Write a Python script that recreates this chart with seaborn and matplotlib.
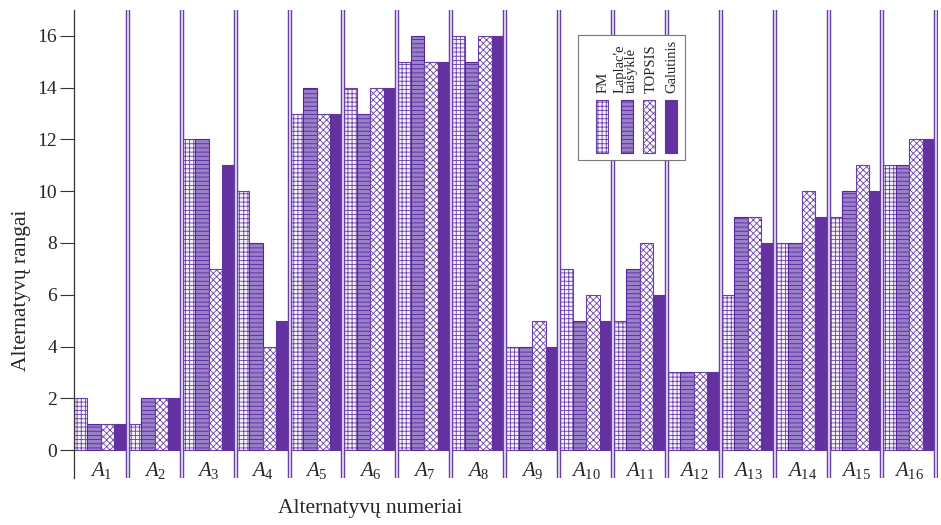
import matplotlib
matplotlib.use('Agg')
import matplotlib.pyplot as plt
from matplotlib.patches import Rectangle
import pandas as pd
import seaborn as sns

# data
alternatives = ['A%d' % i for i in range(1, 17)]
methods = ['FM', "Laplac'e\ntaisyklė", 'TOPSIS', 'Galutinis']
fm = [2, 1, 12, 10, 13, 14, 15, 16, 4, 7, 5, 3, 6, 8, 9, 11]
laplace = [1, 2, 12, 8, 14, 13, 16, 15, 4, 5, 7, 3, 9, 8, 10, 11]
topsis = [1, 2, 7, 4, 13, 14, 15, 16, 5, 6, 8, 3, 9, 10, 11, 12]
galutinis = [1, 2, 11, 5, 13, 14, 15, 16, 4, 5, 6, 3, 8, 9, 10, 12]
y_ticks = [0, 2, 4, 6, 8, 10, 12, 14, 16]

PURPLE = '#6431a0'
EDGE = '#6a40a8'
styles = [
    dict(facecolor='#f4effa', hatch='++++', edgecolor=EDGE),
    dict(facecolor='#9a80c8', hatch='----', edgecolor='#55269a'),
    dict(facecolor='white', hatch='xxxxx', edgecolor=EDGE),
    dict(facecolor=PURPLE, hatch='', edgecolor=PURPLE),
]


def build_frame():
    rows = []
    for method, values in zip(methods, [fm, laplace, topsis, galutinis]):
        for alt, v in zip(alternatives, values):
            rows.append({'alt': alt, 'rank': v, 'method': method})
    return pd.DataFrame(rows)


def main():
    sns.set_style('white')
    plt.rcParams['font.family'] = ['Liberation Serif', 'DejaVu Serif']
    plt.rcParams['mathtext.fontset'] = 'custom'
    plt.rcParams['mathtext.rm'] = 'Liberation Serif'
    plt.rcParams['mathtext.it'] = 'Liberation Serif:italic'
    plt.rcParams['hatch.linewidth'] = 0.6

    df = build_frame()
    fig = plt.figure(figsize=(9.41, 5.25), dpi=100)
    ax = fig.add_axes([74 / 941, 47 / 525, 864 / 941, 468 / 525])

    sns.barplot(data=df, x='alt', y='rank', hue='method', hue_order=methods,
                order=alternatives, width=1.0, gap=0, palette=['white'] * 4,
                legend=False, ax=ax, zorder=2)
    for container, st in zip(ax.containers, styles):
        for patch in container:
            patch.set_facecolor(st['facecolor'])
            patch.set_edgecolor(st['edgecolor'])
            patch.set_hatch(st['hatch'])
            patch.set_linewidth(0.8)

    # double separators between groups
    for i in range(len(alternatives)):
        ax.axvline(i + 0.5, color=EDGE, lw=3.2, zorder=3)
        ax.axvline(i + 0.5, color='#ece6f4', lw=1.2, zorder=3)

    ax.set_xlim(-0.5, 15.53)
    ax.set_ylim(-1.08, 17.0)
    ax.set_yticks(y_ticks)
    ax.tick_params(axis='y', direction='out', length=10, width=0.8,
                   color='#333333', labelsize=14, pad=2, left=True)
    ax.set_xticks([])
    for s in ['top', 'right', 'bottom']:
        ax.spines[s].set_visible(False)
    ax.spines['left'].set_color('#333333')
    ax.spines['left'].set_linewidth(0.9)

    for i in range(len(alternatives)):
        ax.text(i, -0.8, r'$A_{%d}$' % (i + 1), ha='center', va='center',
                fontsize=15)

    ax.set_xlabel('Alternatyvų numeriai', fontsize=15.5)
    ax.set_ylabel('Alternatyvų rangai', fontsize=15.5)
    ax.xaxis.set_label_coords(0.343, -0.045)
    ax.yaxis.set_label_coords(-0.05, 0.40)

    # hand-made legend with rotated labels
    def to_ax(px, py):
        return (px - 74) / 864, (478 - py) / 468

    x0, y0 = to_ax(578, 160)
    x1, y1 = to_ax(685, 35)
    ax.add_patch(Rectangle((x0, y0), x1 - x0, y1 - y0, transform=ax.transAxes,
                           facecolor='white', edgecolor='#777777', lw=0.8,
                           zorder=6))
    patch_x = [596, 621, 643, 665]
    text_x = [603, 626, 651, 672]
    for px, tx, st, label in zip(patch_x, text_x, styles, methods):
        a0, b0 = to_ax(px, 153)
        a1, b1 = to_ax(px + 12, 100)
        ax.add_patch(Rectangle((a0, b0), a1 - a0, b1 - b0,
                               transform=ax.transAxes, facecolor=st['facecolor'],
                               edgecolor=st['edgecolor'], hatch=st['hatch'],
                               lw=0.8, zorder=7))
        tx0, ty0 = to_ax(tx, 93)
        ax.text(tx0, ty0, label, transform=ax.transAxes, rotation=90,
                ha='center', va='bottom', multialignment='left',
                fontsize=10.5, linespacing=0.85, zorder=8)

    fig.savefig('out.png', dpi=100)
    plt.close(fig)


if __name__ == '__main__':
    main()
